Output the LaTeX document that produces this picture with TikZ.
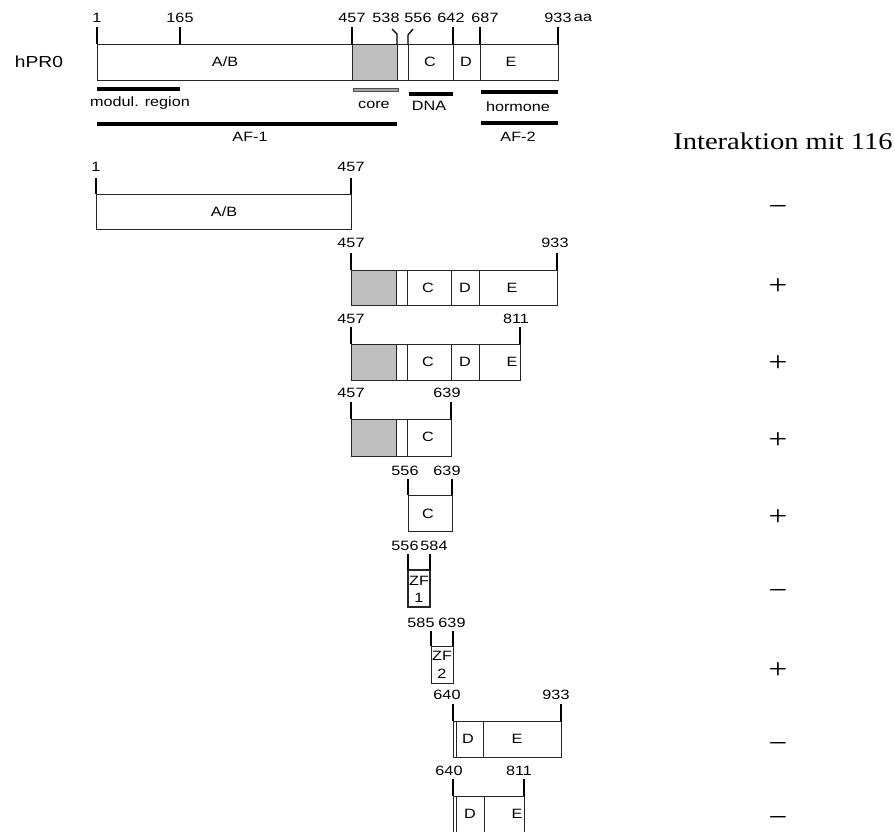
\documentclass[tikz,border=0pt]{standalone}
\usepackage{fontspec}
\setmainfont{Liberation Sans}[FakeStretch=1.2]
\newfontfamily\serifstretch{Liberation Serif}[FakeStretch=1.19]
\begin{document}
\begin{tikzpicture}[x=1pt,y=-1pt,
  seg/.style={draw=black!85,line width=0.8pt},
  tickline/.style={line width=1.8pt,black},
  bar/.style={line width=3.5pt,black},
  num/.style={inner sep=0pt,font=\fontsize{13.5}{13.5}\selectfont},
  lab/.style={inner sep=0pt,font=\fontsize{13.5}{13.5}\selectfont},
  sign/.style={inner sep=0pt,font=\serifstretch\fontsize{28}{28}\selectfont},
  coregray/.style={fill=black!25}]
\useasboundingbox (0,0) rectangle (895,831);
\clip (0,0) rectangle (895,831);

% ---------- hPR0 ----------
\node[inner sep=0pt,font=\fontsize{16}{16}\selectfont] (hpr) at (39,62) {hPR0};
\fill[coregray] (352,44) rectangle (397,80);
\draw[seg] (97,44) rectangle (558,80);
\foreach \x in {352,397,408,453,480} \draw[seg] (\x,44) -- (\x,80);
\draw[tickline] (97,27) -- (97,44);
\draw[tickline] (180,27) -- (180,44);
\draw[tickline] (352,27) -- (352,44);
\draw[line width=1.3pt] (397,44) -- (397,34) -- (392,29);
\draw[line width=1.3pt] (408,44) -- (408,35) -- (413,29);
\draw[tickline] (453,27) -- (453,44);
\draw[tickline] (480,27) -- (480,44);
\draw[tickline] (558,27) -- (558,44);
\node[num] (t1) at (97,18) {1};
\node[num] (t165) at (180,18) {165};
\node[num] (t457) at (352,18) {457};
\node[num] (t538) at (386,18) {538};
\node[num] (t556) at (418,18) {556};
\node[num] (t642) at (451,18) {642};
\node[num] (t687) at (485,18) {687};
\node[num] (t933) at (558,18) {933};
\node[num] (taa) at (583,18) {aa};
\node[lab] (ab0) at (225,62) {A/B};
\node[lab] (c0) at (430,62) {C};
\node[lab] (d0) at (466,62) {D};
\node[lab] (e0) at (511,62) {E};
% region bars
\draw[bar] (97,89) -- (180,89);
\node[lab] (modul) at (140,103) {modul. region};
\filldraw[fill=black!35,draw=black!70,line width=0.7pt] (353,88.5) rectangle (398,91.5);
\node[lab] (core) at (374,105) {core};
\draw[bar] (409,94) -- (453,94);
\node[lab] (dna) at (429,106) {DNA};
\draw[bar] (481,92) -- (558,92);
\node[lab] (horm) at (518,107) {hormone};
\draw[bar] (97,124) -- (397,124);
\node[lab] (af1) at (250,137) {AF-1};
\draw[bar] (481,123) -- (558,123);
\node[lab] (af2) at (518,137) {AF-2};

\node[inner sep=0pt,font=\serifstretch\fontsize{24}{24}\selectfont] (inter) at (783,141) {Interaktion mit 116};

% ---------- row 2: 1-457 ----------
\draw[seg] (96,194) rectangle (351,229);
\draw[tickline] (96,178) -- (96,194);
\draw[tickline] (351,178) -- (351,194);
\node[num] (r2a) at (96,167) {1};
\node[num] (r2b) at (351,167) {457};
\node[lab] (r2ab) at (224,212) {A/B};
\node[sign] (s1) at (778,210) {−};

% ---------- row 3: 457-933 ----------
\fill[coregray] (351,270) rectangle (396,305);
\draw[seg] (351,270) rectangle (557,305);
\foreach \x in {396,407,451,479} \draw[seg] (\x,270) -- (\x,305);
\draw[tickline] (351,253) -- (351,270);
\draw[tickline] (557,253) -- (557,270);
\node[num] (r3a) at (351,243) {457};
\node[num] (r3b) at (555,243) {933};
\node[lab] (r3c) at (428,288) {C};
\node[lab] (r3d) at (465,288) {D};
\node[lab] (r3e) at (512,288) {E};
\node[sign] (s2) at (778,287) {+};

% ---------- row 4: 457-811 ----------
\fill[coregray] (351,344) rectangle (396,380);
\draw[seg] (351,344) rectangle (520,380);
\foreach \x in {396,407,451,479} \draw[seg] (\x,344) -- (\x,380);
\draw[tickline] (351,327) -- (351,344);
\draw[tickline] (520,327) -- (520,344);
\node[num] (r4a) at (351,319) {457};
\node[num] (r4b) at (516,319) {811};
\node[lab] (r4c) at (428,362) {C};
\node[lab] (r4d) at (465,362) {D};
\node[lab] (r4e) at (512,362) {E};
\node[sign] (s3) at (778,364) {+};

% ---------- row 5: 457-639 ----------
\fill[coregray] (351,419) rectangle (396,456);
\draw[seg] (351,419) rectangle (451,456);
\foreach \x in {396,407} \draw[seg] (\x,419) -- (\x,456);
\draw[tickline] (351,402) -- (351,419);
\draw[tickline] (451,402) -- (451,419);
\node[num] (r5a) at (351,393) {457};
\node[num] (r5b) at (447,393) {639};
\node[lab] (r5c) at (428,437) {C};
\node[sign] (s4) at (778,441) {+};

% ---------- row 6: 556-639 ----------
\draw[seg] (408,495) rectangle (452,531);
\draw[tickline] (408,479) -- (408,495);
\draw[tickline] (452,479) -- (452,495);
\node[num] (r6a) at (405,471) {556};
\node[num] (r6b) at (447,471) {639};
\node[lab] (r6c) at (428,514) {C};
\node[sign] (s5) at (778,518) {+};

% ---------- row 7: 556-584 ----------
\draw[seg,line width=1.3pt] (408,570) rectangle (430,607);
\draw[tickline] (408,554) -- (408,570);
\draw[tickline] (430,554) -- (430,570);
\node[num] (r7a) at (405,546) {556};
\node[num] (r7b) at (434,546) {584};
\node[lab] (r7z) at (419,581) {ZF};
\node[lab] (r7n) at (419,598) {1};
\node[sign] (s6) at (778,594) {−};

% ---------- row 8: 585-639 ----------
\draw[seg] (431,646) rectangle (453,683);
\draw[tickline] (431,631) -- (431,646);
\draw[tickline] (453,631) -- (453,646);
\node[num] (r8a) at (421,623) {585};
\node[num] (r8b) at (452,623) {639};
\node[lab] (r8z) at (442,656) {ZF};
\node[lab] (r8n) at (442,674) {2};
\node[sign] (s7) at (778,671) {+};

% ---------- row 9: 640-933 ----------
\draw[seg] (453,721) rectangle (561,757);
\foreach \x in {456,483} \draw[seg] (\x,721) -- (\x,757);
\draw[tickline] (453,704) -- (453,721);
\draw[tickline] (561,704) -- (561,721);
\node[num] (r9a) at (447,695) {640};
\node[num] (r9b) at (556,695) {933};
\node[lab] (r9d) at (468,739) {D};
\node[lab] (r9e) at (517,739) {E};
\node[sign] (s8) at (778,747) {−};

% ---------- row 10: 640-811 ----------
\draw[seg] (453,796) rectangle (524,845);
\foreach \x in {456,484} \draw[seg] (\x,796) -- (\x,845);
\draw[tickline] (453,779) -- (453,796);
\draw[tickline] (524,779) -- (524,796);
\node[num] (r10a) at (449,771) {640};
\node[num] (r10b) at (519,771) {811};
\node[lab] (r10d) at (470,814) {D};
\node[lab] (r10e) at (517,814) {E};
\node[sign] (s9) at (778,821) {−};
\end{tikzpicture}
\end{document}
